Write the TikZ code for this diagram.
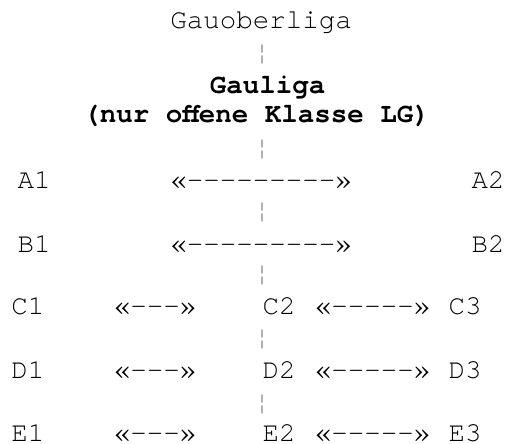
\documentclass[tikz,border=0pt]{standalone}
\usepackage{fontspec}
\newfontfamily\ligamono{texgyrecursor}[Extension=.otf,UprightFont=*-regular,BoldFont=*-bold]
\usepackage{tikz}

\begin{document}
\begin{tikzpicture}[x=1pt,y=1pt,
  lbl/.style={inner sep=0pt,anchor=base,font=\ligamono\fontsize{27.5}{30}\selectfont},
  tick/.style={inner sep=0pt,anchor=center,text=black!60,font=\ligamono\fontsize{25}{27}\selectfont}]
\useasboundingbox (0,0) rectangle (506,-444);
% top of the pyramid
\node [lbl] (gob) at (261,-29) {Gauoberliga};
\node [tick] (t0) at (262,-54) {¦};
\node [lbl,font=\ligamono\bfseries\fontsize{27.5}{30}\selectfont] (gl) at (267.5,-93) {Gauliga};
\node [lbl,font=\ligamono\bfseries\fontsize{27.5}{30}\selectfont] (glk) at (256.5,-122) {(nur offene Klasse LG)};
\node [tick] (t1) at (262,-149) {¦};
% A and B
\node [lbl] (a1) at (34,-188) {A1};
\node [lbl] (a12) at (261,-188) {«---------»};
\node [lbl] (a2) at (488,-188) {A2};
\node [tick] (t2) at (262,-212.5) {¦};
\node [lbl] (b1) at (34,-252) {B1};
\node [lbl] (b12) at (261,-252) {«---------»};
\node [lbl] (b2) at (488,-252) {B2};
\node [tick] (t3) at (262,-275) {¦};
% C to E
\node [lbl] (c1) at (28,-314) {C1};
\node [lbl] (c12) at (155,-314) {«---»};
\node [lbl] (c2) at (279,-314) {C2};
\node [lbl] (c23) at (372.5,-314) {«-----»};
\node [lbl] (c3) at (465,-314) {C3};
\node [tick] (t4) at (262,-339) {¦};
\node [lbl] (d1) at (28,-378) {D1};
\node [lbl] (d12) at (155,-378) {«---»};
\node [lbl] (d2) at (279,-378) {D2};
\node [lbl] (d23) at (372.5,-378) {«-----»};
\node [lbl] (d3) at (465,-378) {D3};
\node [tick] (t5) at (262,-404) {¦};
\node [lbl] (e1) at (28,-441) {E1};
\node [lbl] (e12) at (155,-441) {«---»};
\node [lbl] (e2) at (279,-441) {E2};
\node [lbl] (e23) at (372.5,-441) {«-----»};
\node [lbl] (e3) at (465,-441) {E3};
\end{tikzpicture}
\end{document}
